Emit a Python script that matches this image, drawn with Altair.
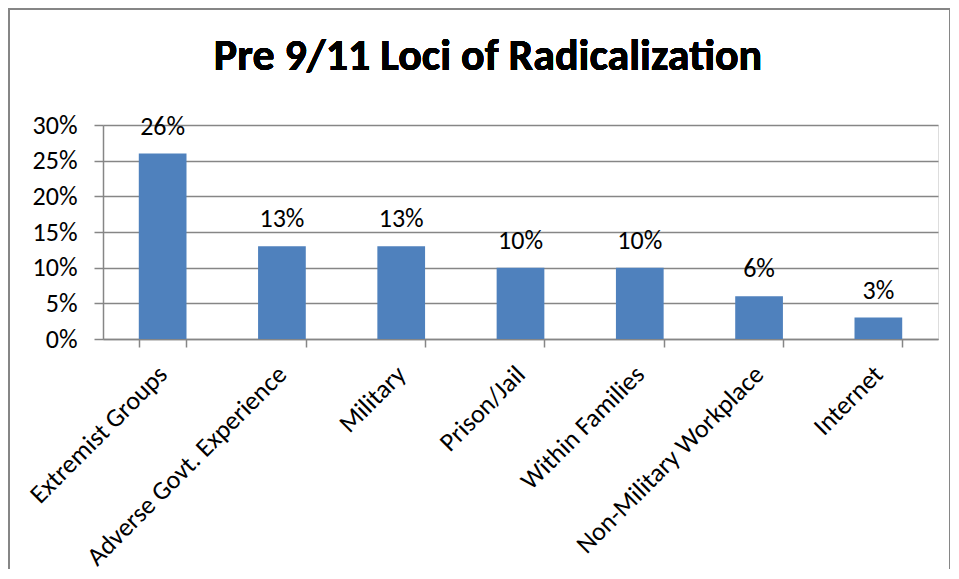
import altair as alt
import pandas as pd

categories = ["Extremist Groups", "Adverse Govt. Experience", "Military", "Prison/Jail",
              "Within Families", "Non-Military Workplace", "Internet"]
values = [0.26, 0.13, 0.13, 0.10, 0.10, 0.06, 0.03]
y_ticks = [0, 0.05, 0.10, 0.15, 0.20, 0.25, 0.30]
title_text = "Pre 9/11 Loci of Radicalization"

df = pd.DataFrame({"cat": categories, "val": values})

FONT = "Carlito, Liberation Sans, sans-serif"
GRID = "#868686"

x_enc = alt.X("cat:N", sort=categories, title=None,
              scale=alt.Scale(paddingInner=0.6, paddingOuter=0.3),
              axis=alt.Axis(labelAngle=-45, labelAlign="right", labelBaseline="middle",
                            labelPadding=23, labelFontSize=26, labelFont=FONT, labelColor="black",
                            tickBand="extent", tickSize=8, tickColor=GRID, domainColor=GRID,
                            domainWidth=1.5, tickWidth=1.5, grid=False, labelLimit=500,
                            labelOverlap=False))
y_enc = alt.Y("val:Q", title=None,
              scale=alt.Scale(domain=[0, 0.30], nice=False),
              axis=alt.Axis(values=y_ticks, format=".0%", labelFontSize=26, labelFont=FONT,
                            labelColor="black", tickSize=9, tickColor=GRID, domainColor=GRID,
                            domainWidth=1.5, tickWidth=1.5, gridColor=GRID, gridWidth=1.5,
                            labelPadding=17, labelOverlap=False))

border = alt.Chart(df).mark_rect(fill=None, stroke=GRID, strokeWidth=2).encode(
    x=alt.value(-94), x2=alt.value(847), y=alt.value(-116), y2=alt.value(470))
title = alt.Chart(df).mark_text(text=title_text, font=FONT, fontSize=44, fontWeight="bold",
                                color="black", align="center", baseline="alphabetic").encode(
    x=alt.value(385), y=alt.value(-55))
bars = alt.Chart(df).mark_bar(color="#4F81BD").encode(x=x_enc, y=y_enc)
labels = alt.Chart(df).mark_text(dy=-19, baseline="alphabetic", fontSize=26, font=FONT,
                                 color="black").encode(
    x=x_enc, y=y_enc, text=alt.Text("val:Q", format=".0%"))

chart = alt.layer(border, bars, labels, title).properties(
    width=835, height=214,
    autosize=alt.AutoSizeParams(type="none"),
    padding={"left": 95, "top": 117, "right": 12, "bottom": 230},
).configure_view(stroke=None).configure(background="white")

chart.save("out.html", embed_options={"renderer": "svg", "actions": False})
